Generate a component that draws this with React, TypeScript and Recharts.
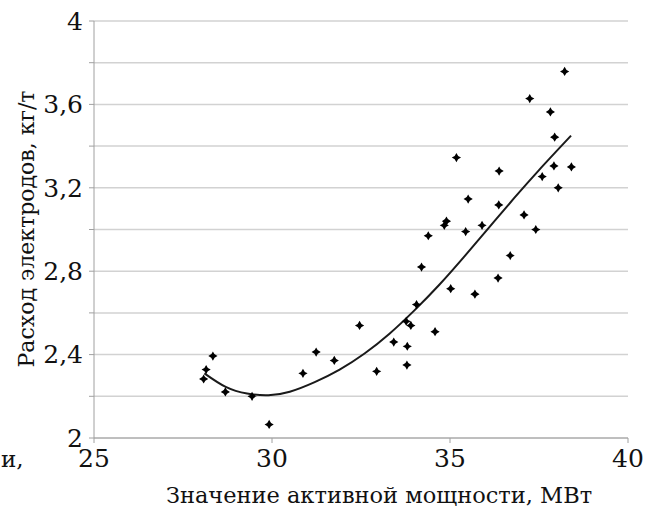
import {
  CartesianGrid,
  ComposedChart,
  Line,
  Scatter,
  XAxis,
  YAxis,
} from 'recharts';

// measured points: active power (MW) vs electrode consumption (kg/t)
const powerMW = [
  28.08, 28.15, 28.34, 28.69, 29.44, 29.92, 30.87, 31.24, 31.75, 32.46, 32.94,
  33.42, 33.8, 33.79, 33.77, 33.9, 34.06, 34.2, 34.39, 34.58, 34.84, 34.9, 35.02,
  35.18, 35.44, 35.51, 35.7, 35.9, 36.35, 36.37, 36.38, 36.69, 37.08, 37.24,
  37.41, 37.59, 37.82, 37.92, 37.94, 38.04, 38.22, 38.41,
];
const consumption = [
  2.283, 2.328, 2.393, 2.221, 2.2, 2.065, 2.31, 2.412, 2.372, 2.54, 2.32, 2.46,
  2.44, 2.35, 2.56, 2.54, 2.64, 2.82, 2.97, 2.51, 3.02, 3.04, 2.716, 3.345, 2.99,
  3.146, 2.69, 3.02, 2.767, 3.118, 3.28, 2.875, 3.07, 3.628, 3.0, 3.254, 3.564,
  3.305, 3.443, 3.2, 3.758, 3.3,
];

// trend curve
const trendX = [28.1, 28.7, 29.3, 29.9, 30.5, 31.2, 31.9, 32.6, 33.3, 34.0, 34.7, 35.4, 36.1, 36.8, 37.5, 38.4];
const trendY = [2.31, 2.245, 2.213, 2.205, 2.222, 2.268, 2.328, 2.405, 2.5, 2.612, 2.735, 2.87, 3.01, 3.15, 3.285, 3.45];

const xTicks = [25, 30, 35, 40];
const yTicks = [2, 2.2, 2.4, 2.6, 2.8, 3, 3.2, 3.4, 3.6, 3.8, 4];
const yTickLabels = ['2', '', '2,4', '', '2,8', '', '3,2', '', '3,6', '', '4'];

const FONT = "'DejaVu Serif', serif";
const textStyle = { fontFamily: FONT };

const points = powerMW.map((x, i) => ({ x, y: consumption[i] }));
const trend = trendX.map((x, i) => ({ x, y: trendY[i] }));

function XTick({ x, y, payload }: any) {
  return (
    <text x={x} y={y} textAnchor="middle" dy="0.71em" style={textStyle} fontSize={25} fill="#111">
      {payload.value}
    </text>
  );
}

function YTick({ x, y, index }: any) {
  const label = yTickLabels[index] ?? '';
  if (!label) return null;
  return (
    <text x={x} y={y} textAnchor="end" dy="0.355em" style={textStyle} fontSize={25} fill="#111">
      {label}
    </text>
  );
}

// small four-point marker
function Marker({ cx, cy }: any) {
  const r = 4.6;
  const k = 1.1;
  const d =
    `M${cx},${cy - r} Q${cx + k},${cy - k} ${cx + r},${cy} ` +
    `Q${cx + k},${cy + k} ${cx},${cy + r} ` +
    `Q${cx - k},${cy + k} ${cx - r},${cy} ` +
    `Q${cx - k},${cy - k} ${cx},${cy - r}Z`;
  return <path d={d} fill="#000" />;
}

export default function App() {
  return (
    <div style={{ position: 'absolute', left: 0, top: 0, width: 663, height: 514, background: '#fff' }}>
      <ComposedChart width={663} height={514} margin={{ top: 21, right: 35, left: 0, bottom: 0 }}>
        <CartesianGrid vertical={false} stroke="#d2d2d2" strokeWidth={1.5} />
        <XAxis
          dataKey="x"
          type="number"
          domain={[25, 40]}
          ticks={xTicks}
          height={76}
          tickSize={5}
          tickMargin={6}
          stroke="#a0a0a0"
          tick={<XTick />}
          label={{
            content: () => (
              <text x={379} y={503} textAnchor="middle" style={textStyle} fontSize={22.5} fill="#111">
                Значение активной мощности, МВт
              </text>
            ),
          }}
        />
        <YAxis
          dataKey="y"
          type="number"
          domain={[2, 4]}
          ticks={yTicks}
          width={94}
          tickSize={5}
          tickMargin={6}
          stroke="#a0a0a0"
          tick={<YTick />}
          label={{
            content: () => (
              <text
                transform="translate(34,229) rotate(-90)"
                textAnchor="middle"
                style={textStyle}
                fontSize={22}
                fill="#111"
              >
                Расход электродов, кг/т
              </text>
            ),
          }}
        />
        <Line
          data={trend}
          dataKey="y"
          type="natural"
          stroke="#1a1a1a"
          strokeWidth={2}
          dot={false}
          isAnimationActive={false}
        />
        <Scatter data={points} dataKey="y" shape={<Marker />} legendType="none" isAnimationActive={false} />
      </ComposedChart>
      <div
        style={{
          position: 'absolute',
          left: 1,
          top: 446,
          fontFamily: FONT,
          fontSize: 23,
          color: '#111',
        }}
      >
        и,
      </div>
    </div>
  );
}
